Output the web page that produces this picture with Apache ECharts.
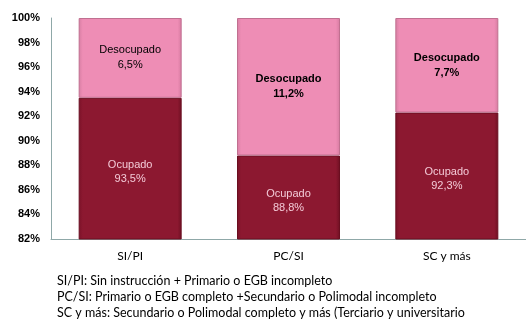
<!DOCTYPE html>
<html>
<head>
<meta charset="utf-8">
<script src="https://cdn.jsdelivr.net/npm/echarts@6/dist/echarts.min.js"></script>
<style>
  html, body { margin: 0; padding: 0; background: #fff; }
  #chart { width: 526px; height: 323px; }
</style>
</head>
<body>
<div id="chart"></div>
<script>
// Employment status by education level (percent)
const categories = ['SI/PI', 'PC/SI', 'SC y más'];
const ocupado = [93.5, 88.8, 92.3];
const desocupado = [6.5, 11.2, 7.7];
const yTicks = ['82%', '84%', '86%', '88%', '90%', '92%', '94%', '96%', '98%', '100%'];
const notes = [
  'SI/PI: Sin instrucción + Primario o EGB incompleto',
  'PC/SI: Primario o EGB completo +Secundario o Polimodal incompleto',
  'SC y más: Secundario o Polimodal completo y más (Terciario y universitario'
];

const fmt = v => v.toFixed(1).replace('.', ',') + '%';

const chart = echarts.init(document.getElementById('chart'), null, { renderer: 'canvas' });

const darkFill = new echarts.graphic.LinearGradient(0, 0, 1, 0, [
  { offset: 0, color: '#7a1228' },
  { offset: 0.04, color: '#8c1830' },
  { offset: 0.96, color: '#8c1830' },
  { offset: 1, color: '#6e0f22' }
]);
const pinkFill = new echarts.graphic.LinearGradient(0, 0, 1, 0, [
  { offset: 0, color: '#d77ea3' },
  { offset: 0.04, color: '#ee8db5' },
  { offset: 0.96, color: '#ee8db5' },
  { offset: 1, color: '#d67ba1' }
]);

chart.setOption({
  animation: false,
  grid: { left: 51, right: 0, top: 18, bottom: 84, containLabel: false },
  xAxis: {
    type: 'category',
    data: categories,
    axisLine: { lineStyle: { color: '#8fa8a8', width: 1 } },
    axisTick: { show: false },
    axisLabel: { color: '#000', fontFamily: 'Lato', fontSize: 12, margin: 11 }
  },
  yAxis: {
    type: 'value',
    min: 82,
    max: 100,
    interval: 2,
    axisLine: { show: true, lineStyle: { color: '#8fa8a8', width: 1 } },
    axisTick: { show: false },
    splitLine: { show: false },
    axisLabel: {
      color: '#000',
      fontFamily: 'Liberation Sans',
      fontSize: 11,
      fontWeight: 'bold',
      margin: 11,
      formatter: v => yTicks[Math.round((v - 82) / 2)]
    }
  },
  series: [
    {
      name: 'Ocupado',
      type: 'bar',
      stack: 'total',
      barWidth: 103,
      data: ocupado,
      itemStyle: { color: darkFill, borderColor: '#6a0e20', borderWidth: 1 },
      label: {
        show: true,
        position: 'inside',
        color: '#f3c9d6',
        fontFamily: 'Liberation Sans',
        fontSize: 11,
        lineHeight: 14,
        offset: [0, 3],
        formatter: p => 'Ocupado\n' + fmt(p.value)
      }
    },
    {
      name: 'Desocupado',
      type: 'bar',
      stack: 'total',
      barWidth: 103,
      data: desocupado.map((v, i) => ({
        value: v,
        label: { fontWeight: i === 0 ? 'normal' : 'bold' }
      })),
      itemStyle: { color: pinkFill, borderColor: '#c07090', borderWidth: 1 },
      label: {
        show: true,
        position: 'inside',
        color: '#000',
        fontFamily: 'Liberation Sans',
        fontSize: 11,
        lineHeight: 15,
        formatter: p => 'Desocupado\n' + fmt(p.value)
      }
    }
  ],
  graphic: notes.map((t, i) => ({
    type: 'text',
    left: 57,
    top: 274 + i * 16,
    style: { text: t, fill: '#000', font: '12.5px Lato' }
  }))
});
</script>
</body>
</html>
